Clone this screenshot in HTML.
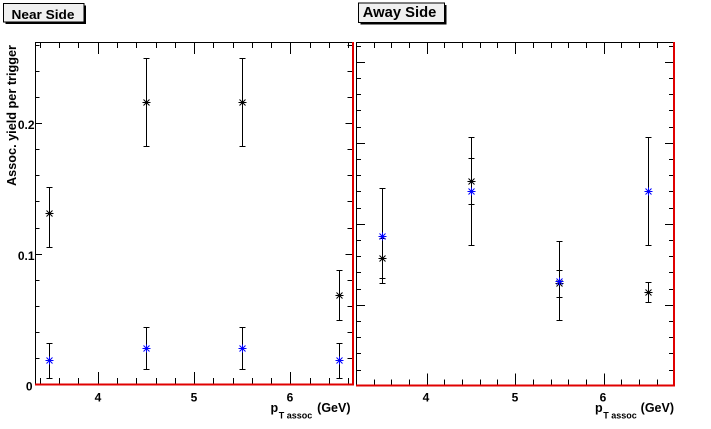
<!DOCTYPE html>
<html><head><meta charset="utf-8"><style>
html,body{margin:0;padding:0;background:#fff;}
svg{display:block;font-family:"Liberation Sans",Arial,sans-serif;font-weight:bold;}
</style></head><body>
<svg width="711" height="429" viewBox="0 0 711 429" xmlns="http://www.w3.org/2000/svg">
<defs>
<g id="s"><path d="M-4 0H4M0 -4V4M-3 -3L3 3M-3 3L3 -3" stroke="currentColor" stroke-width="1" fill="none"/></g>
</defs>
<rect width="711" height="429" fill="#fff"/>

<!-- Title boxes -->
<rect x="5.5" y="5.5" width="80.5" height="18.5" fill="#000"/>
<rect x="3.5" y="3.5" width="80.5" height="18.5" fill="#f0f0f0" stroke="#000" stroke-width="1"/>
<text x="11.5" y="19" font-size="13" textLength="63" lengthAdjust="spacingAndGlyphs">Near Side</text>

<rect x="360.5" y="5" width="86" height="19.5" fill="#000"/>
<rect x="358.5" y="3" width="86" height="19.5" fill="#f0f0f0" stroke="#000" stroke-width="1"/>
<text x="362.8" y="16.8" font-size="14.5" textLength="73.5" lengthAdjust="spacingAndGlyphs">Away Side</text>

<!-- LEFT PANEL FRAME -->
<g stroke="#000" stroke-width="1" fill="none">
<path d="M35 42.5H353M35.5 42V385"/>
<path d="M40.5 384V378M59.5 384V378M78.5 384V378M98.5 384V372M117.5 384V378M136.5 384V378M156.5 384V378M175.5 384V378M194.5 384V372M213.5 384V378M233.5 384V378M252.5 384V378M271.5 384V378M290.5 384V372M310.5 384V378M329.5 384V378M348.5 384V378"/>
<path d="M40.5 42V48M59.5 42V48M78.5 42V48M98.5 42V54M117.5 42V48M136.5 42V48M156.5 42V48M175.5 42V48M194.5 42V54M213.5 42V48M233.5 42V48M252.5 42V48M271.5 42V48M290.5 42V54M310.5 42V48M329.5 42V48M348.5 42V48"/>
<path d="M35 45.5H39.5M35 71.5H39.5M35 97.5H39.5M35 123.5H42M35 149.5H39.5M35 175.5H39.5M35 201.5H39.5M35 228.5H39.5M35 254.5H42M35 280.5H39.5M35 306.5H39.5M35 332.5H39.5M35 358.5H39.5"/>
<path d="M352 45.5H347.5M352 71.5H347.5M352 97.5H347.5M352 123.5H345.5M352 149.5H347.5M352 175.5H347.5M352 201.5H347.5M352 228.5H347.5M352 254.5H345.5M352 280.5H347.5M352 306.5H347.5M352 332.5H347.5M352 358.5H347.5"/>
</g>
<rect x="352" y="42" width="2" height="343.5" fill="#e00000"/>
<rect x="35" y="383.5" width="319" height="2" fill="#e00000"/>

<!-- left tick labels -->
<g font-size="12" fill="#000">
<text x="34.5" y="129" text-anchor="end">0.2</text>
<text x="34.5" y="260" text-anchor="end">0.1</text>
<text x="32.5" y="390.5" text-anchor="end">0</text>
<text x="98" y="401.5" text-anchor="middle">4</text>
<text x="194" y="401.5" text-anchor="middle">5</text>
<text x="290" y="401.5" text-anchor="middle">6</text>
</g>
<text transform="translate(16,115.5) rotate(-90)" font-size="12.5" text-anchor="middle" textLength="141" lengthAdjust="spacingAndGlyphs">Assoc. yield per trigger</text>
<text x="270.5" y="412" font-size="12.5">p</text>
<text x="278.8" y="418.5" font-size="9">T assoc</text>
<text x="350.5" y="412" font-size="12.5" text-anchor="end">(GeV)</text>

<!-- left data: black -->
<g stroke="#000" stroke-width="1" fill="none">
<path d="M49.5 187.5V247.5M46.5 187.5H52.5M46.5 247.5H52.5"/>
<path d="M146.5 58.5V146.5M143.5 58.5H149.5M143.5 146.5H149.5"/>
<path d="M242.5 58.5V146.5M239.5 58.5H245.5M239.5 146.5H245.5"/>
<path d="M339.5 270.5V320.5M336.5 270.5H342.5M336.5 320.5H342.5"/>
</g>
<g color="#000">
<use href="#s" x="49.5" y="213.5"/>
<use href="#s" x="146.5" y="102.5"/>
<use href="#s" x="242.5" y="102.5"/>
<use href="#s" x="339.5" y="295.5"/>
</g>
<!-- left data: blue -->
<g stroke="#000" stroke-width="1" fill="none">
<path d="M49.5 343.5V378.5M46.5 343.5H52.5M46.5 378.5H52.5"/>
<path d="M146.5 327.5V369.5M143.5 327.5H149.5M143.5 369.5H149.5"/>
<path d="M242.5 327.5V369.5M239.5 327.5H245.5M239.5 369.5H245.5"/>
<path d="M339.5 343.5V378.5M336.5 343.5H342.5M336.5 378.5H342.5"/>
</g>
<g color="#0000ff">
<use href="#s" x="49.5" y="360.5"/>
<use href="#s" x="146.5" y="348.5"/>
<use href="#s" x="242.5" y="348.5"/>
<use href="#s" x="339.5" y="360.5"/>
</g>

<!-- RIGHT PANEL FRAME -->
<g stroke="#000" stroke-width="1" fill="none">
<path d="M356 42.5H675M356.5 42V386.5"/>
<path d="M374.5 385V379.5M391.5 385V379.5M409.5 385V379.5M427.5 385V373.5M444.5 385V379.5M462.5 385V379.5M480.5 385V379.5M497.5 385V379.5M515.5 385V373.5M533.5 385V379.5M551.5 385V379.5M568.5 385V379.5M586.5 385V379.5M604.5 385V373.5M621.5 385V379.5M639.5 385V379.5M657.5 385V379.5"/>
<path d="M374.5 42V48M391.5 42V48M409.5 42V48M427.5 42V54M444.5 42V48M462.5 42V48M480.5 42V48M497.5 42V48M515.5 42V54M533.5 42V48M551.5 42V48M568.5 42V48M586.5 42V48M604.5 42V54M621.5 42V48M639.5 42V48M657.5 42V48"/>
<path d="M356 46.5H361M356 62.5H365M356 78.5H361M356 94.5H361M356 110.5H361M356 127.5H361M356 143.5H365M356 159.5H361M356 175.5H361M356 191.5H361M356 208.5H361M356 224.5H365M356 240.5H361M356 256.5H361M356 272.5H361M356 289.5H361M356 305.5H365M356 321.5H361M356 337.5H361M356 353.5H361M356 370.5H361"/>
<path d="M673 46.5H669M673 62.5H665M673 78.5H669M673 94.5H669M673 110.5H669M673 127.5H669M673 143.5H665M673 159.5H669M673 175.5H669M673 191.5H669M673 208.5H669M673 224.5H665M673 240.5H669M673 256.5H669M673 272.5H669M673 289.5H669M673 305.5H665M673 321.5H669M673 337.5H669M673 353.5H669M673 370.5H669"/>
</g>
<rect x="673" y="42" width="2" height="344.5" fill="#e00000"/>
<rect x="356" y="384.5" width="319" height="2" fill="#e00000"/>

<g font-size="12" fill="#000">
<text x="426" y="401.5" text-anchor="middle">4</text>
<text x="515" y="401.5" text-anchor="middle">5</text>
<text x="603" y="401.5" text-anchor="middle">6</text>
</g>
<text x="595" y="412" font-size="12.5">p</text>
<text x="603.3" y="418.5" font-size="9">T assoc</text>
<text x="674" y="412" font-size="12.5" text-anchor="end">(GeV)</text>

<!-- right data: black -->
<g stroke="#000" stroke-width="1" fill="none">
<path d="M382.5 238.5V278.5M379.5 238.5H385.5M379.5 278.5H385.5"/>
<path d="M471.5 158.5V204.5M468.5 158.5H474.5M468.5 204.5H474.5"/>
<path d="M559.5 270.5V297.5M556.5 270.5H562.5M556.5 297.5H562.5"/>
<path d="M648.5 282.5V302.5M645.5 282.5H651.5M645.5 302.5H651.5"/>
</g>
<g color="#000">
<use href="#s" x="382.5" y="258.5"/>
<use href="#s" x="471.5" y="181.5"/>
<use href="#s" x="559.5" y="283.5"/>
<use href="#s" x="648.5" y="292.5"/>
</g>
<!-- right data: blue -->
<g stroke="#000" stroke-width="1" fill="none">
<path d="M382.5 188.5V283.5M379.5 188.5H385.5M379.5 283.5H385.5"/>
<path d="M471.5 137.5V245.5M468.5 137.5H474.5M468.5 245.5H474.5"/>
<path d="M559.5 241.5V320.5M556.5 241.5H562.5M556.5 320.5H562.5"/>
<path d="M648.5 137.5V245.5M645.5 137.5H651.5M645.5 245.5H651.5"/>
</g>
<g color="#0000ff">
<use href="#s" x="382.5" y="236.5"/>
<use href="#s" x="471.5" y="191.5"/>
<use href="#s" x="559.5" y="281.5"/>
<use href="#s" x="648.5" y="191.5"/>
</g>
</svg>
</body></html>
